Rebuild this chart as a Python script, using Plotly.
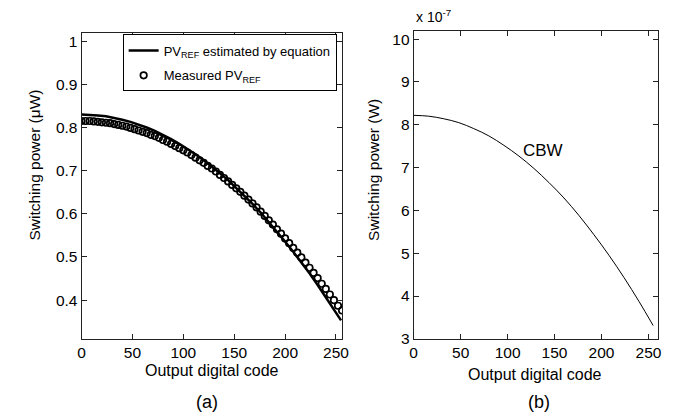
import plotly.graph_objects as go

# ---- Data ----
code_eq = [0, 8, 16, 24, 32, 40, 48, 56, 64, 72, 80, 88, 96, 104, 112, 120, 128,
           136, 144, 152, 160, 168, 176, 184, 192, 200, 208, 216, 224, 232, 240, 248, 255]
pv_eq = [0.830, 0.8295, 0.828, 0.826, 0.8225, 0.818, 0.813, 0.807, 0.800, 0.792, 0.783,
         0.773, 0.762, 0.751, 0.738, 0.724, 0.710, 0.694, 0.678, 0.660, 0.642, 0.623,
         0.603, 0.5815, 0.559, 0.536, 0.512, 0.4875, 0.462, 0.435, 0.407, 0.379, 0.353]

code_meas = [0, 4, 8, 12, 16, 20, 24, 28, 32, 36, 40, 44, 48, 52, 56, 60, 64, 68, 72, 76,
             80, 84, 88, 92, 96, 100, 104, 108, 112, 116, 120, 124, 128, 132, 136, 140,
             144, 148, 152, 156, 160, 164, 168, 172, 176, 180, 184, 188, 192, 196, 200,
             204, 208, 212, 216, 220, 224, 228, 232, 236, 240, 244, 248, 252, 256]
pv_meas = [0.815, 0.815, 0.815, 0.814, 0.813, 0.812, 0.811, 0.810, 0.808, 0.806,
           0.804, 0.802, 0.799, 0.796, 0.793, 0.790, 0.787, 0.783, 0.780, 0.776,
           0.771, 0.767, 0.762, 0.757, 0.752, 0.747, 0.742, 0.736, 0.730, 0.724,
           0.718, 0.711, 0.705, 0.698, 0.690, 0.683, 0.675, 0.667, 0.659, 0.651,
           0.642, 0.633, 0.624, 0.615, 0.605, 0.595, 0.585, 0.575, 0.564, 0.554,
           0.543, 0.532, 0.521, 0.510, 0.499, 0.487, 0.475, 0.463, 0.451, 0.438,
           0.426, 0.413, 0.400, 0.387, 0.376]

code_cbw = [0, 16, 32, 48, 64, 80, 96, 112, 128, 144, 160, 176, 192, 208, 224, 240, 255]
pw_cbw_e7 = [8.22, 8.20, 8.14, 8.05, 7.91, 7.74, 7.52, 7.27, 6.98, 6.65, 6.29, 5.88,
             5.43, 4.95, 4.43, 3.87, 3.31]  # in units of 1e-7 W

xticks = [0, 50, 100, 150, 200, 250]
xticklabels = ["0", "50", "100", "150", "200", "250"]
yticks_a = [0.4, 0.5, 0.6, 0.7, 0.8, 0.9, 1.0]
yticklabels_a = ["0.4", "0.5", "0.6", "0.7", "0.8", "0.9", "1"]
yticks_b = [3, 4, 5, 6, 7, 8, 9, 10]
yticklabels_b = ["3", "4", "5", "6", "7", "8", "9", "10"]

FONT = "Liberation Sans, Arial, sans-serif"
W, H = 679, 418
AX = "#222222"

fig = go.Figure()
fig.add_trace(go.Scatter(x=code_eq, y=pv_eq, mode="lines",
                         line=dict(color="black", width=2.5),
                         name="PV<sub>REF</sub> estimated by equation",
                         legendgroup="g1",
                         xaxis="x", yaxis="y"))
fig.add_trace(go.Scatter(x=code_meas, y=pv_meas, mode="markers",
                         marker=dict(symbol="circle-open", size=6.5, color="black",
                                     line=dict(width=1.7, color="black")),
                         name="Measured PV<sub>REF</sub>",
                         legendgroup="g2",
                         xaxis="x", yaxis="y"))
fig.add_trace(go.Scatter(x=code_cbw, y=pw_cbw_e7, mode="lines", line_shape="spline",
                         line=dict(color="black", width=1),
                         showlegend=False, xaxis="x2", yaxis="y2"))

def px_x(p):
    return p / W

def px_y(p):
    return 1 - p / H

common_axis = dict(showline=True, linecolor=AX, linewidth=1, mirror="ticks",
                   ticks="inside", ticklen=5, tickcolor=AX, tickwidth=1,
                   showgrid=False, zeroline=False,
                   tickfont=dict(family=FONT, size=15.5, color="black"))

fig.update_layout(
    width=W, height=H,
    paper_bgcolor="white", plot_bgcolor="white",
    margin=dict(l=0, r=0, t=0, b=0),
    font=dict(family=FONT, color="black"),
    xaxis=dict(domain=[px_x(70.7), px_x(335.5)], range=[0, 256],
               tickvals=xticks, ticktext=xticklabels, anchor="y", **common_axis),
    yaxis=dict(domain=[px_y(337), px_y(25)], range=[0.311, 1.02],
               tickvals=yticks_a, ticktext=yticklabels_a, anchor="x", **common_axis),
    xaxis2=dict(domain=[px_x(408.3), px_x(656.5)], range=[0, 260],
                tickvals=xticks, ticktext=xticklabels, anchor="y2", **common_axis),
    yaxis2=dict(domain=[px_y(337.3), px_y(23)], range=[3, 10.2],
                tickvals=yticks_b, ticktext=yticklabels_b, anchor="x2", **common_axis),
    showlegend=True,
    legend=dict(x=px_x(330), y=px_y(27), xanchor="right", yanchor="top",
                bgcolor="white", bordercolor="black", borderwidth=1,
                font=dict(family=FONT, size=13, color="black"),
                tracegroupgap=5),
)

ann = [
    dict(text="Output digital code", x=px_x(203), y=px_y(370), xref="paper", yref="paper",
         showarrow=False, font=dict(family=FONT, size=16), xanchor="center", yanchor="middle"),
    dict(text="Output digital code", x=px_x(532), y=px_y(374), xref="paper", yref="paper",
         showarrow=False, font=dict(family=FONT, size=16), xanchor="center", yanchor="middle"),
    dict(text="Switching power (\u03bcW)", x=px_x(23), y=px_y(160), xref="paper", yref="paper",
         textangle=-90, showarrow=False, font=dict(family=FONT, size=15.5),
         xanchor="center", yanchor="middle"),
    dict(text="Switching power (W)", x=px_x(368), y=px_y(165), xref="paper", yref="paper",
         textangle=-90, showarrow=False, font=dict(family=FONT, size=15.5),
         xanchor="center", yanchor="middle"),
    dict(text="(a)", x=px_x(198), y=px_y(402), xref="paper", yref="paper",
         showarrow=False, font=dict(family=FONT, size=18), xanchor="center", yanchor="middle"),
    dict(text="(b)", x=px_x(536), y=px_y(402), xref="paper", yref="paper",
         showarrow=False, font=dict(family=FONT, size=18), xanchor="center", yanchor="middle"),
    dict(text="x 10<sup>-7</sup>", x=px_x(409), y=px_y(19), xref="paper", yref="paper",
         showarrow=False, font=dict(family=FONT, size=14), xanchor="left", yanchor="bottom"),
    dict(text="CBW", x=138, y=7.40, xref="x2", yref="y2",
         showarrow=False, font=dict(family=FONT, size=17), xanchor="center", yanchor="middle"),
]
fig.update_layout(annotations=ann)

fig.write_html("out.html")
